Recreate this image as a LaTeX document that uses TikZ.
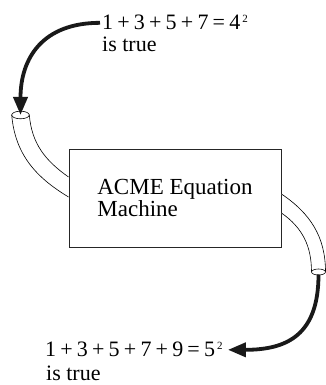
\documentclass[tikz,border=0pt]{standalone}
\usepackage{fontspec}
\setmainfont{Liberation Serif}
\usepackage{tikz}
\usetikzlibrary{arrows.meta}
\newcommand{\op}[1]{\hspace{0.19em}#1\hspace{0.19em}}
\newcommand{\sq}{\hspace{0.1em}\raisebox{7pt}{\fontsize{11}{11}\selectfont 2}}
\tikzset{
  machine/.style={rectangle, draw=black!85, line width=0.9pt,
                  minimum width=212pt, minimum height=98pt,
                  align=left, font=\fontsize{23}{22}\selectfont},
  eqtext/.style={inner xsep=2pt, inner ysep=0pt, anchor=base west,
                 font=\fontsize{22}{22}\selectfont},
  tube/.style={line width=0.6pt, draw=black, fill=white},
  flow/.style={-{Triangle[length=18pt,width=14pt]}, line width=3.8pt, color=black!90},
}

\begin{document}
\begin{tikzpicture}[x=1pt, y=1pt]
  \useasboundingbox (0,0) rectangle (325,385);

  % -- machine ------------------------------------------------------------
  \node[machine] at (175,187) (mach) {ACME Equation\\Machine};

  % -- statements ---------------------------------------------------------
  \node[eqtext] at (100,355) (inexpr) {1\op{+}3\op{+}5\op{+}7\op{=}4\sq};
  \node[eqtext] at (100,333) (innote) {is true};
  \node[eqtext] at (43,28) (outexpr) {1\op{+}3\op{+}5\op{+}7\op{+}9\op{=}5\sq};
  \node[eqtext] at (44,5) (outnote) {is true};

  % -- tube mouths --------------------------------------------------------
  \coordinate (inmouth)  at (20.5,270);
  \coordinate (outmouth) at (318.5,113);

  % -- tubes --------------------------------------------------------------
  \draw[tube] ([xshift=-8.8pt]inmouth) to[out=-85,in=149] ([yshift=1pt]mach.west);
  \draw[tube] ([xshift=8.8pt]inmouth)  to[out=-85,in=145] ([yshift=21pt]mach.west);
  \draw[tube] ([yshift=4pt]mach.east)   to[out=-34,in=90] ([xshift=7pt]outmouth);
  \draw[tube] ([yshift=-15pt]mach.east) to[out=-35,in=90] ([xshift=-7pt]outmouth);
  \draw[tube] (inmouth)  ellipse [x radius=8.8pt, y radius=3.8pt];
  \draw[tube] (outmouth) ellipse [x radius=7pt, y radius=3pt];

  % -- arrows -------------------------------------------------------------
  \draw[flow] (inexpr.west) to[out=180,in=90,looseness=1.2] (inmouth);
  \draw[flow] ([yshift=-2.5pt]outmouth) to[out=-90,in=0,looseness=1.3] ([xshift=3pt]outexpr.east);
\end{tikzpicture}
\end{document}
